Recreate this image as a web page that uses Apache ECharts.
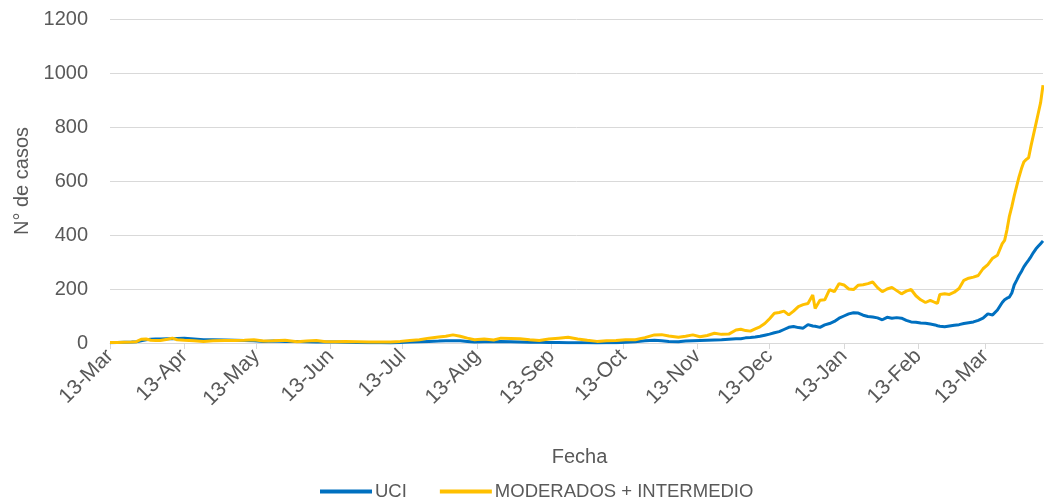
<!DOCTYPE html>
<html>
<head>
<meta charset="utf-8">
<script src="https://cdn.jsdelivr.net/npm/echarts@6/dist/echarts.min.js"></script>
<style>html,body{margin:0;padding:0;background:#fff}#c{width:1044px;height:500px}</style>
</head>
<body>
<div id="c"></div>
<script>
// Day offsets since 13-Mar-2020
const days = [0,3,6,9,11,13,15,17,19,21,24,26,28,31,35,39,43,48,52,56,60,64,68,73,78,82,86,90,94,98,103,108,113,117,121,125,129,133,137,140,143,146,149,152,156,160,163,167,171,175,179,183,187,191,195,199,203,207,211,215,219,223,227,230,233,237,240,243,246,249,252,255,258,261,263,265,267,269,271,273,275,277,279,281,283,285,287,289,291,293,294,296,298,300,302,304,306,308,310,312,314,316,318,320,322,324,326,328,330,332,334,336,338,340,342,344,345,346,348,350,352,354,356,358,360,362,364,366,368,370,372,373,374,375,376,377,378,379,380,381,382,383,384,385,386,387,388,389];
const uci = [1,2,3,4,5,8,12,14,15,15,16,16,17,18,15,12,12,11,10,9,8,6,7,6,6,5,4,4,4,3,2,1,1,0,2,4,5,6,7,8,8,8,6,4,5,5,6,5,4,3,3,2,2,1,1,1,0,1,1,3,5,8,10,8,6,5,7,8,9,10,11,12,14,16,16,19,20,22,25,29,33,38,42,50,58,61,57,55,68,63,62,58,67,72,80,92,100,108,112,111,103,98,96,93,86,95,92,94,92,84,78,77,74,73,70,67,64,62,60,63,66,68,72,75,78,84,92,108,104,122,150,160,166,170,185,215,232,250,265,282,295,307,320,335,348,358,368,378];
const moderados = [2,2,3,4,5,14,15,10,9,9,14,18,12,10,8,6,8,9,9,10,12,7,8,10,5,7,9,5,5,6,5,4,4,4,6,9,12,18,22,25,30,25,18,12,15,11,18,17,16,12,9,15,18,21,15,10,6,8,9,12,12,20,30,31,26,21,25,30,23,28,36,32,33,48,51,46,44,52,60,72,90,110,113,118,104,118,135,142,146,178,128,158,160,198,190,220,215,200,198,214,216,220,226,205,190,200,206,194,182,192,198,175,160,150,158,150,147,180,182,180,188,202,232,240,244,250,275,290,314,325,368,380,420,470,505,545,580,615,645,670,680,686,730,770,810,850,890,955];
const tickDays = [0,31,61,92,122,153,184,214,245,275,306,337,365];
const tickLabels = ['13-Mar','13-Apr','13-May','13-Jun','13-Jul','13-Aug','13-Sep','13-Oct','13-Nov','13-Dec','13-Jan','13-Feb','13-Mar'];

const font = 'Liberation Sans';
const txt = '#595959';
const chart = echarts.init(document.getElementById('c'), null, {renderer:'canvas'});
chart.setOption({
  animation:false,
  grid:{left:110,right:1,top:19,bottom:157,outerBoundsMode:'none',containLabel:false},
  legend:{
    top:482, left:320, padding:0, itemWidth:52, itemHeight:4, itemGap:33,
    icon:'rect',
    textStyle:{fontFamily:font,fontSize:18.5,color:txt,padding:[0,0,0,-2]},
    data:['UCI','MODERADOS + INTERMEDIO']
  },
  xAxis:{
    type:'value', min:0, max:389,
    name:'Fecha', nameLocation:'middle', nameGap:104,
    nameTextStyle:{fontFamily:font,fontSize:20,color:txt,padding:[0,0,0,6]},
    axisLine:{show:true,lineStyle:{color:'#d9d9d9',width:1}},
    axisTick:{show:true,length:6,lineStyle:{color:'#d9d9d9'},customValues:tickDays},
    splitLine:{show:false},
    axisLabel:{
      customValues:tickDays, rotate:45, margin:10,
      fontFamily:font,fontSize:21,color:txt,
      formatter:function(v){const i=tickDays.indexOf(Math.round(v));return i>=0?tickLabels[i]:'';}
    }
  },
  yAxis:{
    type:'value', min:0, max:1200, interval:200,
    name:'N° de casos', nameLocation:'middle', nameGap:78, nameRotate:90,
    nameTextStyle:{fontFamily:font,fontSize:20,color:txt},
    axisLine:{show:false}, axisTick:{show:false},
    splitLine:{lineStyle:{color:'#d9d9d9',width:1}},
    axisLabel:{margin:22,fontFamily:font,fontSize:20,color:txt,formatter:function(v){return String(v);}}
  },
  series:[
    {name:'UCI',type:'line',showSymbol:false,symbol:'none',
     data:days.map((d,i)=>[d,uci[i]]),
     lineStyle:{color:'#0070C0',width:3},itemStyle:{color:'#0070C0'}},
    {name:'MODERADOS + INTERMEDIO',type:'line',showSymbol:false,symbol:'none',
     data:days.map((d,i)=>[d,moderados[i]]),
     lineStyle:{color:'#FFC000',width:3},itemStyle:{color:'#FFC000'}}
  ]
});
</script>
</body>
</html>
